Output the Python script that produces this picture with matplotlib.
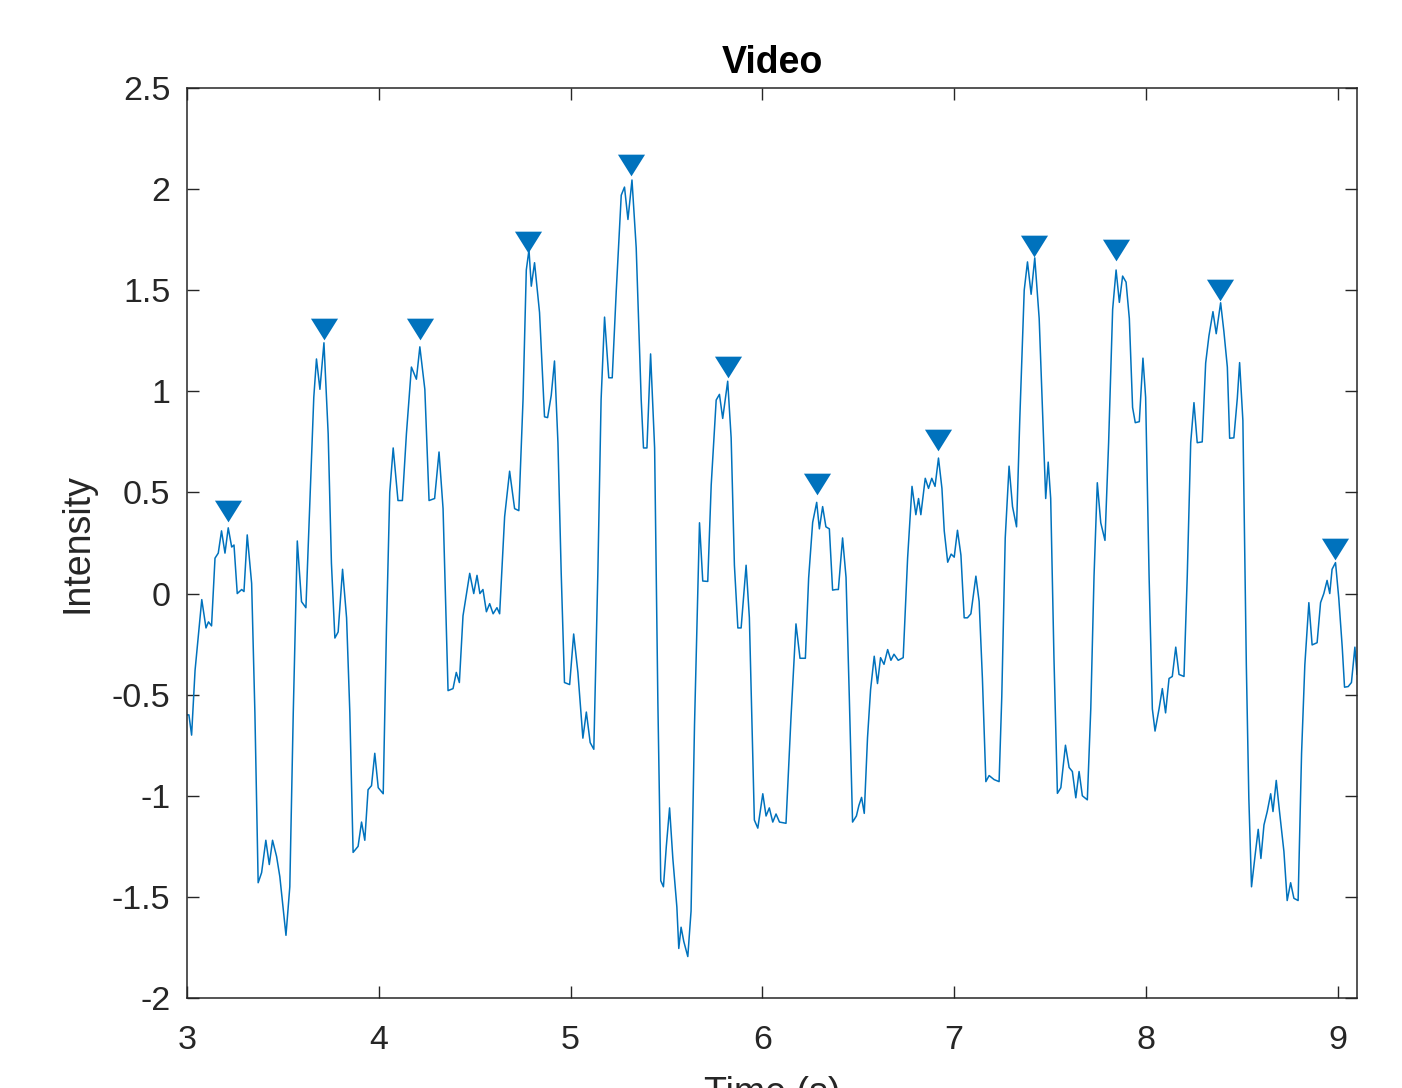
import matplotlib
matplotlib.use('Agg')
import matplotlib.pyplot as plt

plt.rcParams['font.family'] = ['Liberation Sans', 'DejaVu Sans']

# signal, time (s) and intensity
time_s = [
    3.000, 3.010, 3.024, 3.042, 3.059, 3.077, 3.099, 3.112, 3.128, 3.146,
    3.163, 3.180, 3.198, 3.215, 3.233, 3.245, 3.262, 3.285, 3.297, 3.314,
    3.337, 3.354, 3.371, 3.389, 3.411, 3.429, 3.446, 3.467, 3.484, 3.516,
    3.536, 3.554, 3.575, 3.597, 3.620, 3.641, 3.661, 3.675, 3.693, 3.714,
    3.736, 3.753, 3.771, 3.788, 3.811, 3.832, 3.849, 3.866, 3.892, 3.910,
    3.927, 3.944, 3.962, 3.979, 3.997, 4.023, 4.040, 4.057, 4.075, 4.100,
    4.123, 4.144, 4.170, 4.196, 4.214, 4.240, 4.262,
    4.291, 4.314, 4.335, 4.361, 4.387, 4.404, 4.420, 4.439, 4.474, 4.495,
    4.512, 4.527, 4.543, 4.561, 4.578, 4.596, 4.616, 4.630, 4.656, 4.682,
    4.708, 4.730, 4.752, 4.769, 4.783, 4.795, 4.812, 4.838, 4.864, 4.880,
    4.899, 4.916, 4.934, 4.951, 4.968, 4.995, 5.016, 5.038, 5.064, 5.082,
    5.102, 5.121, 5.142, 5.159, 5.177, 5.199, 5.217, 5.238, 5.264, 5.281,
    5.299, 5.320, 5.342, 5.368, 5.380, 5.398, 5.417, 5.438, 5.455,
    5.470, 5.484, 5.499, 5.516, 5.533, 5.554, 5.564, 5.576, 5.590, 5.611,
    5.628, 5.646, 5.672, 5.689, 5.715, 5.733, 5.759, 5.776, 5.793, 5.819,
    5.837, 5.854, 5.872, 5.889, 5.915, 5.932, 5.958, 5.976, 6.002, 6.019,
    6.036, 6.054, 6.071, 6.089, 6.123,
    6.149, 6.175, 6.196, 6.224, 6.241, 6.262, 6.283, 6.297, 6.314, 6.331,
    6.349, 6.366, 6.384, 6.396, 6.418, 6.436, 6.453, 6.470, 6.490, 6.503,
    6.517, 6.531, 6.548, 6.564, 6.583, 6.600, 6.616, 6.634, 6.653, 6.670,
    6.686, 6.708, 6.734, 6.757, 6.780, 6.800, 6.814, 6.826, 6.849, 6.866,
    6.883, 6.900, 6.918, 6.936, 6.948, 6.966, 6.984, 7.000, 7.017, 7.035,
    7.052, 7.069, 7.087, 7.113, 7.130, 7.147, 7.165, 7.182, 7.208, 7.234,
    7.248, 7.266, 7.286, 7.304, 7.325, 7.342, 7.365, 7.382, 7.401, 7.420,
    7.443, 7.469, 7.477, 7.490, 7.503, 7.520, 7.538, 7.556, 7.580,
    7.599, 7.616, 7.634, 7.651, 7.668, 7.694, 7.712, 7.729, 7.746, 7.764,
    7.786, 7.805, 7.826, 7.844, 7.861, 7.878, 7.896, 7.913, 7.930, 7.944,
    7.965, 7.984, 7.998, 8.016, 8.033, 8.047, 8.068, 8.085, 8.102, 8.120,
    8.137, 8.155, 8.172, 8.198, 8.215, 8.233, 8.250, 8.267, 8.293, 8.311,
    8.328, 8.349, 8.366, 8.389, 8.406, 8.424, 8.436, 8.458, 8.476, 8.488,
    8.505, 8.523, 8.536, 8.550, 8.571, 8.585, 8.599, 8.615, 8.632, 8.650,
    8.662, 8.679, 8.696, 8.719, 8.736, 8.754, 8.771, 8.793, 8.811, 8.828,
    8.849, 8.866, 8.892, 8.910, 8.927, 8.944, 8.958, 8.970, 8.988, 9.005,
    9.023, 9.035, 9.054, 9.071, 9.089, 9.100,
]
intensity = [
    -0.60, -0.60, -0.70, -0.38, -0.21, -0.03, -0.17, -0.14, -0.16, 0.175,
    0.20, 0.31, 0.20, 0.325, 0.23, 0.24, 0.00, 0.02, 0.01, 0.29,
    0.05, -0.59, -1.43, -1.38, -1.22, -1.34, -1.22, -1.30, -1.40, -1.69,
    -1.45, -0.59, 0.26, -0.04, -0.07, 0.47, 0.97, 1.16, 1.01, 1.24,
    0.79, 0.15, -0.22, -0.19, 0.12, -0.12, -0.59, -1.28, -1.25, -1.13,
    -1.22, -0.97, -0.95, -0.79, -0.96, -0.99, -0.17, 0.50, 0.72, 0.46,
    0.46, 0.79, 1.12, 1.06, 1.22, 1.01, 0.46,
    0.47, 0.70, 0.42, -0.48, -0.47, -0.39, -0.44, -0.11, 0.10, 0.00,
    0.09, 0.00, 0.02, -0.09, -0.05, -0.10, -0.07, -0.10, 0.38, 0.605,
    0.42, 0.41, 0.96, 1.60, 1.70, 1.52, 1.636, 1.39, 0.874, 0.87,
    0.98, 1.15, 0.745, 0.10, -0.44, -0.45, -0.20, -0.39, -0.715, -0.586,
    -0.737, -0.77, 0.10, 0.96, 1.367, 1.067, 1.067, 1.496, 1.97, 2.01,
    1.85, 2.045, 1.71, 0.96, 0.72, 0.72, 1.185, 0.72, -0.54,
    -1.42, -1.45, -1.25, -1.06, -1.31, -1.55, -1.755, -1.65, -1.72, -1.795,
    -1.57, -0.65, 0.35, 0.062, 0.06, 0.536, 0.957, 0.985, 0.866, 1.05,
    0.77, 0.14, -0.17, -0.17, 0.14, -0.12, -1.12, -1.16, -0.99, -1.10,
    -1.06, -1.13, -1.09, -1.13, -1.136,
    -0.614, -0.15, -0.32, -0.32, 0.076, 0.352, 0.451, 0.32, 0.43, 0.33,
    0.32, 0.017, 0.02, 0.02, 0.275, 0.08, -0.51, -1.13, -1.10, -1.048,
    -1.008, -1.087, -0.713, -0.475, -0.31, -0.445, -0.317, -0.35, -0.277, -0.33,
    -0.30, -0.33, -0.317, 0.175, 0.53, 0.39, 0.47, 0.39, 0.57, 0.52,
    0.57, 0.53, 0.67, 0.52, 0.31, 0.155, 0.195, 0.18, 0.313, 0.19,
    -0.12, -0.12, -0.10, 0.086, -0.04, -0.42, -0.93, -0.90, -0.92, -0.93,
    -0.51, 0.275, 0.63, 0.43, 0.33, 0.866, 1.50, 1.64, 1.48, 1.66,
    1.36, 0.67, 0.47, 0.65, 0.47, -0.317, -0.988, -0.96, -0.75,
    -0.86, -0.88, -1.01, -0.88, -1.00, -1.02, -0.57, 0.087, 0.548, 0.35,
    0.263, 0.746, 1.405, 1.60, 1.44, 1.57, 1.54, 1.36, 0.92, 0.845,
    0.85, 1.164, 0.97, 0.087, -0.57, -0.68, -0.57, -0.47, -0.59, -0.42,
    -0.41, -0.265, -0.40, -0.41, 0.087, 0.746, 0.944, 0.746, 0.75, 1.14,
    1.274, 1.394, 1.285, 1.438, 1.296, 1.12, 0.768, 0.77, 0.966, 1.142,
    0.856, -0.353, -1.01, -1.45, -1.276, -1.166, -1.31, -1.144, -1.078, -0.99,
    -1.078, -0.924, -1.078, -1.276, -1.518, -1.43, -1.507, -1.518, -0.79, -0.353,
    -0.045, -0.254, -0.243, -0.045, 0.0, 0.065, 0.0, 0.12, 0.153, -0.023,
    -0.265, -0.463, -0.46, -0.44, -0.265, -0.40,
]

# detected peaks (marker centres as drawn)
peak_t = [3.215, 3.712, 4.214, 4.780, 5.316, 5.819, 6.283, 6.918, 7.418, 7.846, 8.385, 8.983]
peak_y = [0.41, 1.31, 1.31, 1.74, 2.12, 1.12, 0.54, 0.76, 1.72, 1.70, 1.50, 0.22]

x_ticks = [3, 4, 5, 6, 7, 8, 9]
y_ticks = [-2, -1.5, -1, -0.5, 0, 0.5, 1, 1.5, 2, 2.5]
y_tick_labels = ['-2', '-1.5', '-1', '-0.5', '0', '0.5', '1', '1.5', '2', '2.5']

blue = '#0072BD'
dark = '#262626'

fig = plt.figure(figsize=(14.02, 10.88), dpi=100)
ax = fig.add_axes([187 / 1402, 90 / 1088, 1170 / 1402, 910 / 1088])

ax.plot(time_s, intensity, color=blue, linewidth=1.1,
        solid_joinstyle='round', solid_capstyle='round')
tri = [(-1, 0.8), (1, 0.8), (0, -0.8)]
ax.plot(peak_t, peak_y, linestyle='none', marker=tri, markersize=19.5,
        color=blue, markeredgewidth=0)

ax.set_xlim(3, 9.1)
ax.set_ylim(-2, 2.5)
ax.set_xticks(x_ticks)
ax.set_yticks(y_ticks)
ax.set_yticklabels(y_tick_labels)

for s in ax.spines.values():
    s.set_color(dark)
    s.set_linewidth(1.1)
ax.tick_params(direction='in', length=8.6, width=1.0, color=dark,
               labelcolor=dark, labelsize=24.5, top=True, right=True)
ax.tick_params(axis='x', pad=19.5)
ax.tick_params(axis='y', pad=12)

# title sits a bit higher in the reference
ax.set_title('Video', fontsize=27, fontweight='bold', color='black', pad=10.5)
ax.set_xlabel('Time (s)', fontsize=27, color=dark)
ax.set_ylabel('Intensity', fontsize=27, color=dark)
ax.xaxis.set_label_coords(0.5, -0.086)
ax.yaxis.set_label_coords(-0.078, 0.5)

fig.savefig('out.png', dpi=100)
